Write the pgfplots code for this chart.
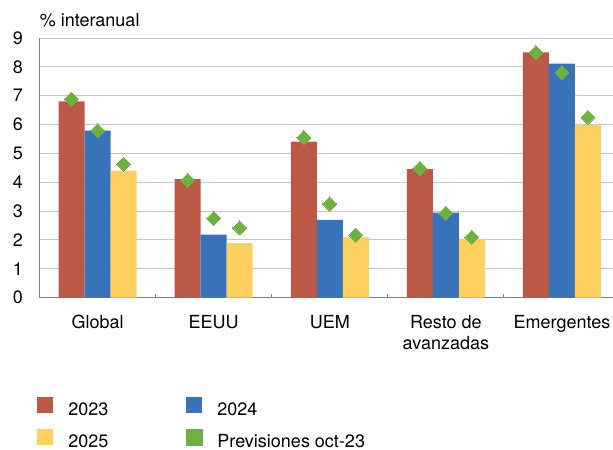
\documentclass[border=0pt]{standalone}
\usepackage{fontspec}
\setmainfont{TeX Gyre Heros}
\usepackage{pgfplots}
\pgfplotsset{compat=1.18}

\definecolor{c23}{RGB}{187,88,70}
\definecolor{c24}{RGB}{56,115,185}
\definecolor{c25}{RGB}{254,208,96}
\definecolor{cprev}{RGB}{109,178,64}
\definecolor{axisgray}{RGB}{128,128,128}
\definecolor{gridgray}{RGB}{200,200,200}

\newcommand{\lblfont}{\fontsize{18bp}{21bp}\selectfont}

\begin{document}
\begin{tikzpicture}
\useasboundingbox (-39.6bp,-152.3bp) rectangle (573.4bp,297.7bp);
\begin{axis}[
  scale only axis,
  width=573.4bp, height=259.7bp,
  xmin=-0.5, xmax=4.44, ymin=0, ymax=9,
  axis lines*=left,
  axis line style={draw=axisgray, line width=1.5bp},
  ytick={0,...,9},
  ymajorgrids,
  grid style={draw=gridgray, line width=1bp},
  xtick={0,...,4},
  xticklabels={Global,EEUU,UEM,{Resto de\\avanzadas},Emergentes},
  minor xtick={0.5,1.5,2.5,3.5},
  major tick length=0pt,
  minor tick length=4bp,
  tick align=inside,
  minor tick style={draw=axisgray, line width=1bp},
  tick label style={font=\lblfont},
  /pgf/number format/assume math mode=true,
  yticklabel style={anchor=east, inner sep=0pt, xshift=-16.5bp},
  xticklabel style={anchor=north, inner sep=0pt, yshift=-17.3bp, align=center},
  legend columns=2,
  legend style={draw=none, fill=none, inner sep=0pt, outer sep=0pt,
    at={(axis description cs:0,0)}, anchor=north west,
    xshift=-2.3bp, yshift=-99bp, font=\lblfont,
    nodes={inner sep=0pt, text height=13bp, text depth=4bp},
    row sep=9.5bp,
    /tikz/every odd column/.style={column sep=15bp},
    /tikz/every even column/.style={column sep=77.7bp}},
  legend cell align=left,
  clip=false,
]
\node[anchor=base west, inner sep=0pt, font=\lblfont] at (rel axis cs:0,1) [yshift=12bp] {\% interanual};

\addplot[ybar, bar width=0.224, bar shift=-0.224, fill=c23, draw=none,
  legend image code/.code={\fill[c23] (0bp,-2bp) rectangle (16bp,14bp);}]
  coordinates {(0,6.80) (1,4.11) (2,5.41) (3,4.46) (4,8.50)};
\addlegendentry{2023}
\addplot[ybar, bar width=0.224, bar shift=0, fill=c24, draw=none,
  legend image code/.code={\fill[c24] (0bp,-2bp) rectangle (16bp,14bp);}]
  coordinates {(0,5.79) (1,2.19) (2,2.70) (3,2.95) (4,8.11)};
\addlegendentry{2024}
\addplot[ybar, bar width=0.224, bar shift=0.224, fill=c25, draw=none,
  legend image code/.code={\fill[c25] (0bp,-2bp) rectangle (16bp,14bp);}]
  coordinates {(0,4.40) (1,1.89) (2,2.10) (3,2.01) (4,5.99)};
\addlegendentry{2025}
\addplot[only marks, color=cprev, mark=square*, mark size=4.9bp,
  mark options={rotate=45, fill=cprev, draw=cprev, line width=0pt},
  legend image code/.code={\fill[cprev] (0bp,-2bp) rectangle (16bp,14bp);}]
  coordinates {(-0.224,6.88) (0,5.79) (0.224,4.63)
               (0.776,4.07) (1,2.75) (1.224,2.42)
               (1.776,5.55) (2,3.25) (2.224,2.17)
               (2.776,4.48) (3,2.93) (3.224,2.10)
               (3.776,8.50) (4,7.80) (4.224,6.25)};
\addlegendentry{Previsiones oct-23}
\end{axis}
\end{tikzpicture}
\end{document}
